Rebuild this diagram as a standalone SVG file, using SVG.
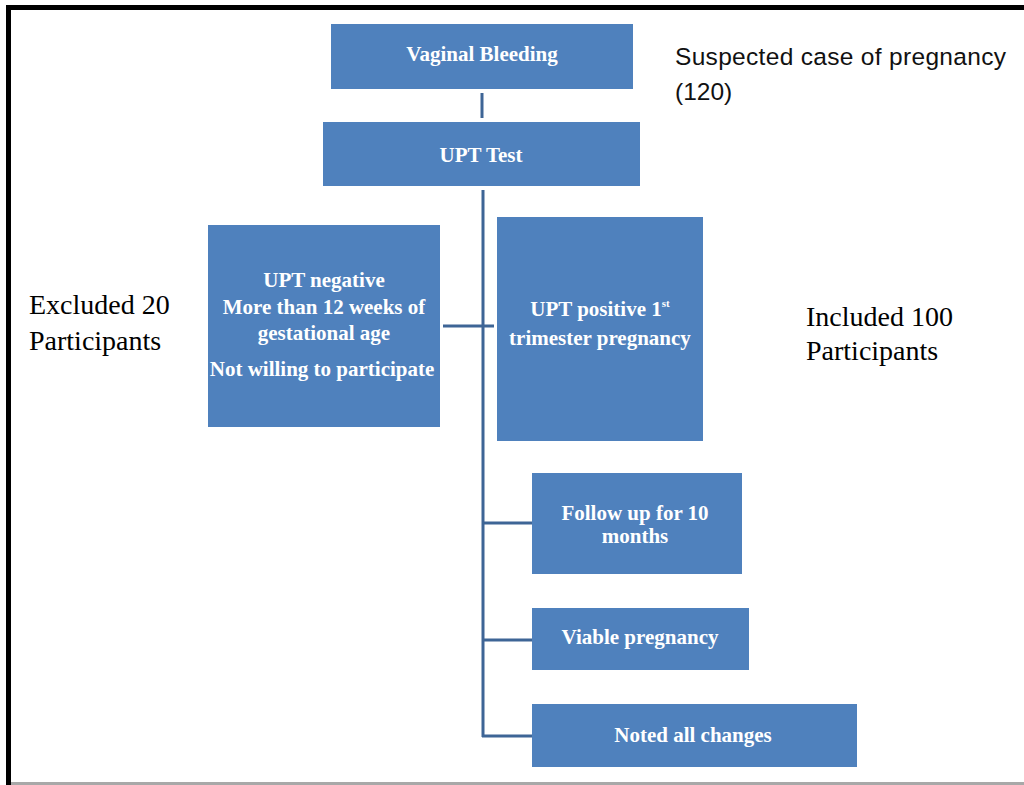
<svg xmlns="http://www.w3.org/2000/svg" width="1024" height="785" viewBox="0 0 1024 785">
<style>
.box{fill:#4F81BD;}
.bt{font-family:"Liberation Serif","Times New Roman",serif;font-weight:bold;font-size:21px;fill:#FFFFFF;text-anchor:middle;}
.side{font-family:"Liberation Serif","Times New Roman",serif;font-size:28px;fill:#000000;}
.sans{font-family:"Liberation Sans",Arial,sans-serif;font-size:24.5px;fill:#111111;}
.conn{stroke:#3E6596;stroke-width:3;fill:none;}
</style>
<rect x="0" y="0" width="1024" height="785" fill="#FFFFFF"/>
<g id="frame">
<rect x="6" y="5" width="1018" height="5" fill="#000000"/>
<rect x="6" y="5" width="5" height="780" fill="#000000"/>
<rect x="11" y="782" width="1013" height="3" fill="#A8A8A8"/>
</g>
<g id="connectors">
<line class="conn" x1="482" y1="93" x2="482" y2="118"/>
<line class="conn" x1="483" y1="190" x2="483" y2="737"/>
<line class="conn" x1="443" y1="326" x2="494" y2="326"/>
<line class="conn" x1="482" y1="523" x2="532" y2="523"/>
<line class="conn" x1="482" y1="640" x2="532" y2="640"/>
<line class="conn" x1="482" y1="736" x2="532" y2="736"/>
</g>
<g id="vaginal-bleeding">
<rect class="box" x="331" y="24" width="302" height="65"/>
<text class="bt" x="482" y="61">Vaginal Bleeding</text>
</g>
<g id="upt-test">
<rect class="box" x="323" y="122" width="317" height="64"/>
<text class="bt" x="481" y="162">UPT Test</text>
</g>
<g id="upt-negative">
<rect class="box" x="208" y="225" width="232" height="202"/>
<text class="bt" x="324" y="287">UPT negative</text>
<text class="bt" x="324" y="314">More than 12 weeks of</text>
<text class="bt" x="324" y="340">gestational age</text>
<text class="bt" x="322" y="376">Not willing to participate</text>
</g>
<g id="upt-positive">
<rect class="box" x="497" y="217" width="206" height="224"/>
<text class="bt" x="600" y="316">UPT positive 1<tspan font-size="11" dy="-9">st</tspan></text>
<text class="bt" x="600" y="345">trimester pregnancy</text>
</g>
<g id="follow-up">
<rect class="box" x="532" y="473" width="210" height="101"/>
<text class="bt" x="635" y="520">Follow up for 10</text>
<text class="bt" x="635" y="543">months</text>
</g>
<g id="viable">
<rect class="box" x="532" y="608" width="217" height="62"/>
<text class="bt" x="640" y="644">Viable pregnancy</text>
</g>
<g id="noted">
<rect class="box" x="532" y="704" width="325" height="63"/>
<text class="bt" x="693" y="742">Noted all changes</text>
</g>
<g id="labels">
<text class="sans" x="675" y="65" textLength="331" lengthAdjust="spacing">Suspected case of pregnancy</text>
<text class="sans" x="675" y="100">(120)</text>
<text class="side" x="29" y="314">Excluded 20</text>
<text class="side" x="29" y="350">Participants</text>
<text class="side" x="806" y="326">Included 100</text>
<text class="side" x="806" y="360">Participants</text>
</g>
</svg>
